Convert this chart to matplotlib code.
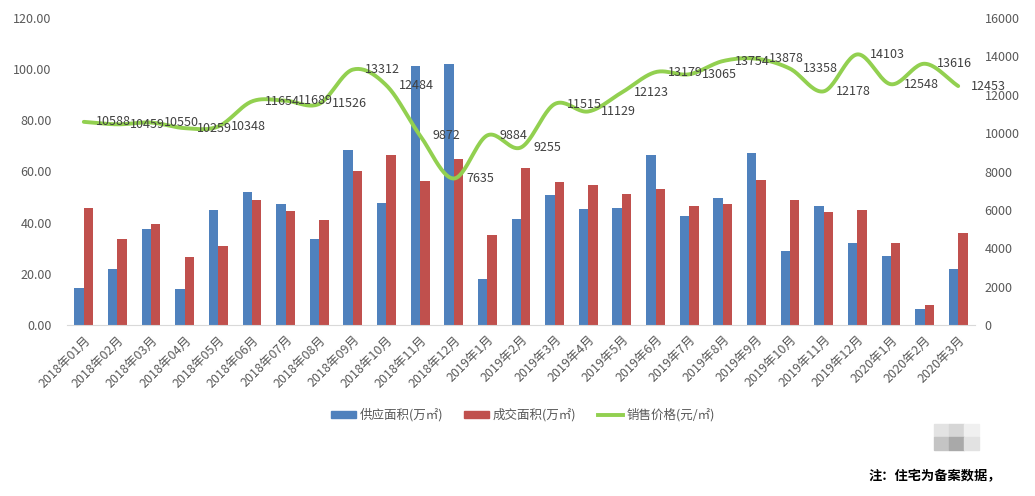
import numpy as np
import matplotlib
matplotlib.use("Agg")
import matplotlib.pyplot as plt
from matplotlib.patches import Rectangle, Patch
from matplotlib.lines import Line2D

plt.rcParams['font.family'] = ['Noto Sans CJK SC', 'DejaVu Sans']

months = ["2018年01月", "2018年02月", "2018年03月", "2018年04月", "2018年05月", "2018年06月",
          "2018年07月", "2018年08月", "2018年09月", "2018年10月", "2018年11月", "2018年12月",
          "2019年1月", "2019年2月", "2019年3月", "2019年4月", "2019年5月", "2019年6月",
          "2019年7月", "2019年8月", "2019年9月", "2019年10月", "2019年11月", "2019年12月",
          "2020年1月", "2020年2月", "2020年3月"]
supply = [14.6, 21.9, 37.4, 14.0, 44.8, 52.1, 47.3, 33.8, 68.5, 47.7, 101.2, 102.2,
          17.9, 41.6, 51.0, 45.5, 45.7, 66.4, 42.6, 49.8, 67.4, 29.1, 46.6, 31.9,
          27.0, 6.4, 21.8]
deal = [45.6, 33.5, 39.3, 26.4, 30.7, 48.8, 44.6, 40.9, 60.3, 66.6, 56.4, 65.0,
        35.0, 61.2, 56.0, 54.6, 51.1, 53.3, 46.5, 47.4, 56.8, 48.9, 44.0, 45.0,
        32.2, 7.8, 36.0]
price = [10588, 10459, 10550, 10259, 10348, 11654, 11689, 11526, 13312, 12484, 9872, 7635,
         9884, 9255, 11515, 11129, 12123, 13179, 13065, 13754, 13878, 13358, 12178, 14103,
         12548, 13616, 12453]
left_ticks = [0, 20, 40, 60, 80, 100, 120]
right_ticks = [0, 2000, 4000, 6000, 8000, 10000, 12000, 14000, 16000]

BLUE = "#4F81BD"
RED = "#C0504D"
GREEN = "#92D050"
TICKC = "#595959"

fig = plt.figure(figsize=(10.35, 4.96), dpi=100)
ax = fig.add_axes([67/1035, 1-325/496, (975-67)/1035, (325-18)/496])
ax2 = ax.twinx()

x = np.arange(len(months))
w = 0.28
ax.bar(x - w/2, supply, width=w, color=BLUE, zorder=2)
ax.bar(x + w/2, deal, width=w, color=RED, zorder=2)

# smooth line (Catmull-Rom through the data points)
def catmull_rom(xs, ys, n=24):
    xs = np.asarray(xs, float); ys = np.asarray(ys, float)
    px = np.concatenate([[2*xs[0]-xs[1]], xs, [2*xs[-1]-xs[-2]]])
    py = np.concatenate([[2*ys[0]-ys[1]], ys, [2*ys[-1]-ys[-2]]])
    outx, outy = [], []
    t = np.linspace(0, 1, n, endpoint=False)
    for i in range(1, len(px)-2):
        for P, out in ((px, outx), (py, outy)):
            p0, p1, p2, p3 = P[i-1], P[i], P[i+1], P[i+2]
            out.extend(0.5*((2*p1) + (-p0+p2)*t + (2*p0-5*p1+4*p2-p3)*t**2 + (-p0+3*p1-3*p2+p3)*t**3))
    outx.append(xs[-1]); outy.append(ys[-1])
    return np.array(outx), np.array(outy)

sx, sy = catmull_rom(x, price)
ax2.plot(sx, sy, color=GREEN, lw=2.8, solid_capstyle='round', zorder=3)
for xi, p in zip(x, price):
    ax2.annotate(f"{p}", (xi, p), xytext=(9, 0), textcoords='offset points',
                 ha='left', va='center', fontsize=9, color="#404040", zorder=4)

ax.set_xlim(-0.5, len(months)-0.5)
ax.set_ylim(0, 120)
ax2.set_ylim(0, 16000)
ax.set_yticks(left_ticks)
ax.set_yticklabels([f"{v:.2f}" for v in left_ticks])
ax2.set_yticks(right_ticks)
ax2.set_yticklabels([str(v) for v in right_ticks])
ax.set_xticks(x)
ax.set_xticklabels(months, rotation=45, ha='right', rotation_mode='anchor')

for a in (ax, ax2):
    for s in a.spines.values():
        s.set_visible(False)
ax.spines['bottom'].set_visible(True)
ax.spines['bottom'].set_color("#D9D9D9")
ax.tick_params(axis='y', length=0, pad=11, labelsize=9, labelcolor=TICKC)
ax2.tick_params(axis='y', length=0, pad=7, labelsize=9, labelcolor=TICKC)
ax.tick_params(axis='x', length=0, pad=6, labelsize=9, labelcolor=TICKC)
ax.set_zorder(ax2.get_zorder() - 1)
ax.patch.set_visible(False)

handles = [Patch(color=BLUE), Patch(color=RED), Line2D([], [], color=GREEN, lw=2.8)]
labels = ["供应面积(万㎡)", "成交面积(万㎡)", "销售价格(元/㎡)"]
fig.legend(handles, labels, loc='center', bbox_to_anchor=(0.505, 1-415/496), ncol=3,
           frameon=False, fontsize=9, handlelength=2.0, handleheight=0.5,
           columnspacing=1.7, handletextpad=0.3, labelcolor=TICKC)

# mosaic watermark block
cells = [("#E3E3E3", 0, 0), ("#D6D6D6", 1, 0), ("#F0F0F0", 2, 0),
         ("#C4C4C4", 0, 1), ("#A9A9A9", 1, 1), ("#E2E2E2", 2, 1)]
for c, i, j in cells:
    fig.patches.append(Rectangle(((934 + i*15)/1035, 1-(424 + (j+1)*13)/496), 15/1035, 13/496,
                                 transform=fig.transFigure, color=c, zorder=0))

fig.text(868/1035, 1-476/496, "注：住宅为备案数据，", fontsize=9.5, fontweight='bold',
         color="#000000", ha='left', va='center')

fig.savefig("out.png", dpi=100)
